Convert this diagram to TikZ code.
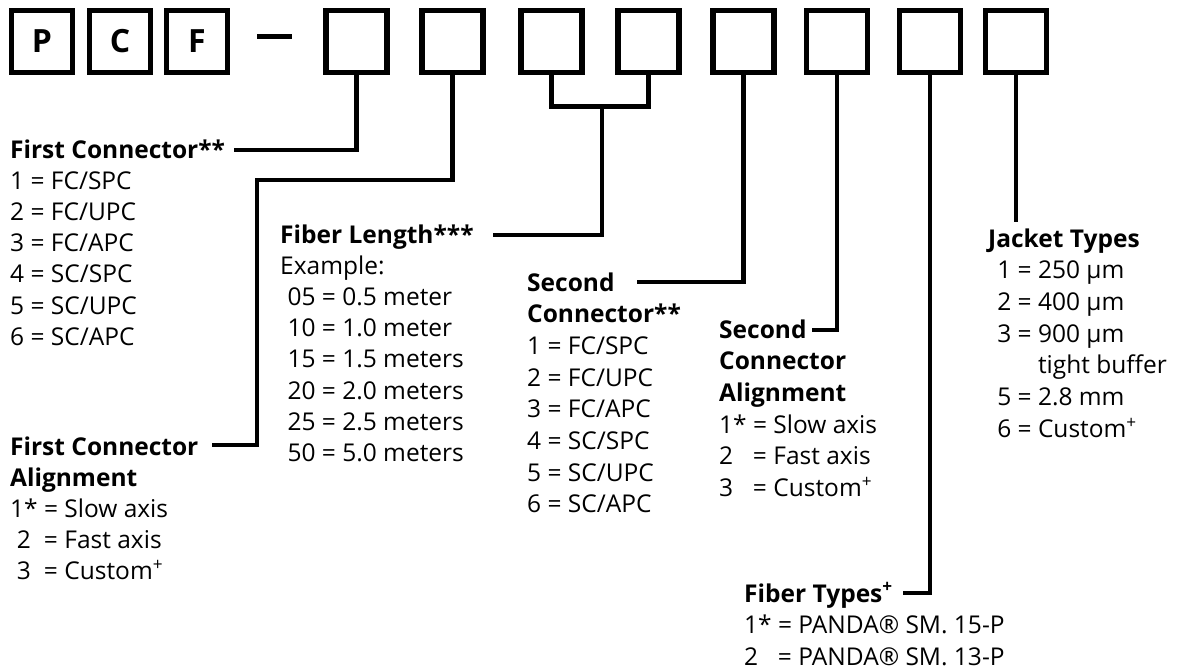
\documentclass[tikz,border=0pt]{standalone}
\usepackage{fontspec}
\setmainfont{Open Sans}
\begin{document}
\begin{tikzpicture}[x=1pt,y=-1pt,
  letterbox/.style={draw, line width=5.5pt, minimum width=61pt, minimum height=62pt, inner sep=0pt, font=\fontsize{32}{32}\selectfont\bfseries},
  conn/.style={line width=4.8pt},
  tblock/.style={anchor=base west, inner sep=0pt, align=left, font=\fontsize{24.5}{31.2}\selectfont},
  wideblock/.style={tblock, font=\fontsize{24.5}{31.7}\selectfont}]
\useasboundingbox (0,0) rectangle (1201,669);
% code boxes
\node[letterbox] (bP) at (42,41.5) {P};
\node[letterbox] (bC) at (120,41.5) {C};
\node[letterbox] (bF) at (197,41.5) {F};
\draw[line width=5pt] (257,37) -- (292,37);
\node[letterbox] (b4) at (356.5,41.5) {};
\node[letterbox] (b5) at (452.5,41.5) {};
\node[letterbox] (b6) at (551.5,41.5) {};
\node[letterbox] (b7) at (648.5,41.5) {};
\node[letterbox] (b8) at (743.5,41.5) {};
\node[letterbox] (b9) at (837,41.5) {};
\node[letterbox] (b10) at (930,41.5) {};
\node[letterbox] (b11) at (1016,41.5) {};
% text blocks (anchor = baseline of last line)
\node[tblock] (tA) at (10,{158+6*31.2}) {\textbf{First Connector**}\\1 = FC/SPC\\2 = FC/UPC\\3 = FC/APC\\4 = SC/SPC\\5 = SC/UPC\\6 = SC/APC};
\node[tblock] (tB) at (10,{455+4*31.2}) {\textbf{First Connector}\\\textbf{Alignment}\\\makebox[1.12em][l]{1*} = Slow axis\\\makebox[1.12em][c]{2} = Fast axis\\\makebox[1.12em][c]{3} = Custom\textsuperscript{+}};
\node[tblock] (tC) at (280,{243+7*31.2}) {\textbf{Fiber Length***}\\Example:\\\hspace{0.3em}05 = 0.5 meter\\\hspace{0.3em}10 = 1.0 meter\\\hspace{0.3em}15 = 1.5 meters\\\hspace{0.3em}20 = 2.0 meters\\\hspace{0.3em}25 = 2.5 meters\\\hspace{0.3em}50 = 5.0 meters};
\node[wideblock] (tD) at (527,{291+7*31.7}) {\textbf{Second}\\\textbf{Connector**}\\1 = FC/SPC\\2 = FC/UPC\\3 = FC/APC\\4 = SC/SPC\\5 = SC/UPC\\6 = SC/APC};
\node[wideblock] (tE) at (719,{338+5*31.7}) {\textbf{Second}\\\textbf{Connector}\\\textbf{Alignment}\\\makebox[1.12em][l]{1*} = Slow axis\\\makebox[1.12em][l]{2} = Fast axis\\\makebox[1.12em][l]{3} = Custom\textsuperscript{+}};
\node[wideblock] (tF) at (744,{602+2*31.7}) {\textbf{Fiber Types\textsuperscript{+}}\\\makebox[1.12em][l]{1*} = PANDA® SM. 15-P\\\makebox[1.12em][l]{2} = PANDA® SM. 13-P};
\node[wideblock] (tG) at (988,{247+6*31.7}) {\textbf{Jacket Types}\\\hspace{0.37em}1 = 250 µm\\\hspace{0.37em}2 = 400 µm\\\hspace{0.37em}3 = 900 µm\\\hspace{0.37em}\hphantom{3 = }tight buffer\\\hspace{0.37em}5 = 2.8 mm\\\hspace{0.37em}6 = Custom\textsuperscript{+}};
% connector end points
\coordinate (a1) at (234,150);
\coordinate (k1) at (257,180);
\coordinate (a2) at (212,445);
\coordinate (bm) at (602,106);
\coordinate (a3) at (493,235);
\coordinate (a4) at (637,282);
\coordinate (a5) at (812,330);
\coordinate (a6) at (903,593);
\coordinate (a7) at (1016,222);
% connectors
\draw[conn] (b4.south) |- (a1);
\draw[conn] (b5.south) |- (k1) |- (a2);
\draw[conn] (b6.south) -- ++(0,31) -| (b7.south);
\draw[conn] (bm) |- (a3);
\draw[conn] (b8.south) |- (a4);
\draw[conn] (b9.south) |- (a5);
\draw[conn] (b10.south) |- (a6);
\draw[conn] (b11.south) -- (a7);
\end{tikzpicture}
\end{document}
